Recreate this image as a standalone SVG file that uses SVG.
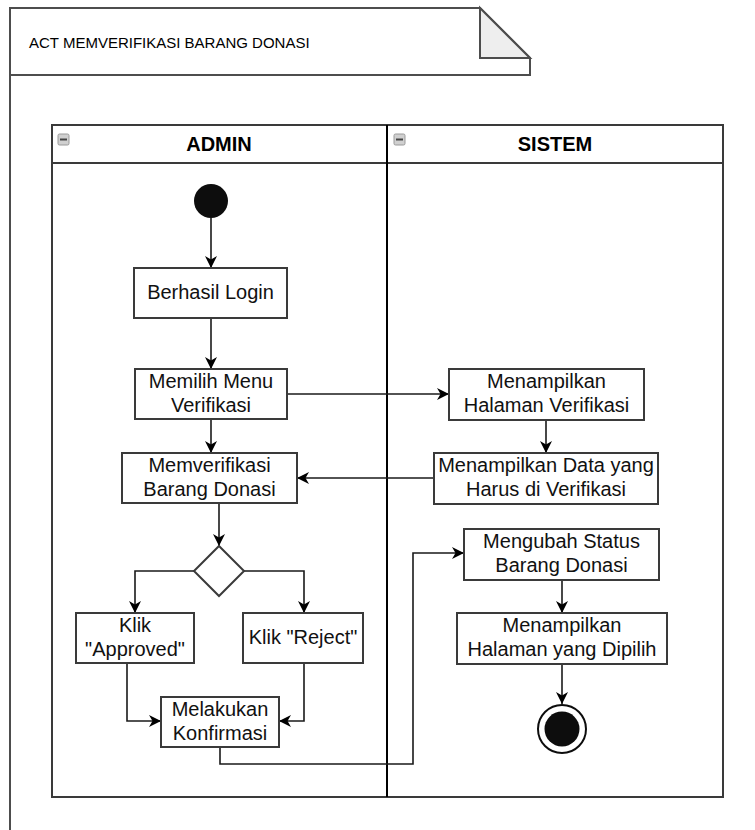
<svg xmlns="http://www.w3.org/2000/svg" width="755" height="830" viewBox="0 0 755 830">
  <style>
    .frame { fill: none; stroke: #4d4d4d; stroke-width: 2; }
    .lane { fill: none; stroke: #3a3a3a; stroke-width: 2; }
    .box { fill: #ffffff; stroke: #3a3a3a; stroke-width: 2; }
    .lbl { font-family: "Liberation Sans", Arial, sans-serif; font-size: 20px; fill: #111; text-anchor: middle; }
    .head { font-family: "Liberation Sans", Arial, sans-serif; font-size: 20px; font-weight: bold; fill: #000; text-anchor: middle; }
    .title { font-family: "Liberation Sans", Arial, sans-serif; font-size: 15px; fill: #000; }
    .edge { fill: none; stroke: #1a1a1a; stroke-width: 1.6; marker-end: url(#arrow); }
    .icon { fill: #d0d0d0; stroke: #9a9a9a; stroke-width: 1; }
  </style>
  <defs>
    <marker id="arrow" markerUnits="userSpaceOnUse" markerWidth="12" markerHeight="12" refX="12" refY="6" orient="auto">
      <path d="M0,0 L12,6 L0,12 L3.5,6 Z" fill="#000"/>
    </marker>
  </defs>

  <rect width="755" height="830" fill="#ffffff"/>

  <!-- activity frame with folded title tab -->
  <g id="frame">
    <path class="frame" d="M10,8 H480 L530,58 V75 H10 Z"/>
    <path d="M480,8 V58 H530 Z" fill="#eeeeee" stroke="#4d4d4d" stroke-width="2" stroke-linejoin="miter"/>
    <line class="frame" x1="10" y1="75" x2="10" y2="830"/>
    <text class="title" x="29" y="48">ACT MEMVERIFIKASI BARANG DONASI</text>
  </g>

  <!-- swimlanes -->
  <g id="lanes">
    <rect class="lane" x="52" y="125" width="671" height="672"/>
    <line class="lane" x1="52" y1="163" x2="723" y2="163"/>
    <line x1="387" y1="125" x2="387" y2="797" stroke="#000" stroke-width="2"/>
    <g id="lane-admin">
      <rect class="icon" x="58" y="134" width="11" height="11" rx="1.5"/>
      <line x1="60" y1="139.5" x2="67" y2="139.5" stroke="#444" stroke-width="2"/>
      <text class="head" x="219" y="151">ADMIN</text>
    </g>
    <g id="lane-sistem">
      <rect class="icon" x="394" y="134" width="11" height="11" rx="1.5"/>
      <line x1="396" y1="139.5" x2="403" y2="139.5" stroke="#444" stroke-width="2"/>
      <text class="head" x="555" y="151">SISTEM</text>
    </g>
  </g>

  <!-- connectors -->
  <g id="connectors">
    <path class="edge" d="M211,218 V268"/>
    <path class="edge" d="M211,318 V369"/>
    <path class="edge" d="M287,394 H449"/>
    <path class="edge" d="M211,419 V453"/>
    <path class="edge" d="M546,420 V453"/>
    <path class="edge" d="M434,478 H297"/>
    <path class="edge" d="M219,503 V546"/>
    <path class="edge" d="M194,571 H135 V613"/>
    <path class="edge" d="M244,571 H304 V613"/>
    <path class="edge" d="M127,663 V721 H161"/>
    <path class="edge" d="M304,663 V721 H279"/>
    <path class="edge" d="M220,747 V764 H413 V553 H464"/>
    <path class="edge" d="M562,580 V613"/>
    <path class="edge" d="M562,664 V704"/>
  </g>

  <!-- nodes -->
  <g id="start">
    <circle cx="211" cy="201" r="17" fill="#0d0d0d"/>
  </g>

  <g id="berhasil-login">
    <rect class="box" x="134" y="268" width="153" height="50"/>
    <text class="lbl" x="210.5" y="299">Berhasil Login</text>
  </g>

  <g id="memilih-menu">
    <rect class="box" x="135" y="369" width="152" height="50"/>
    <text class="lbl" x="211" y="388">Memilih Menu</text>
    <text class="lbl" x="211" y="412">Verifikasi</text>
  </g>

  <g id="memverifikasi">
    <rect class="box" x="122" y="453" width="175" height="50"/>
    <text class="lbl" x="209.5" y="472">Memverifikasi</text>
    <text class="lbl" x="209.5" y="496">Barang Donasi</text>
  </g>

  <g id="decision">
    <path d="M219,546 L244,571 L219,596 L194,571 Z" fill="#fff" stroke="#3a3a3a" stroke-width="2"/>
  </g>

  <g id="klik-approved">
    <rect class="box" x="76" y="613" width="118" height="50"/>
    <text class="lbl" x="135" y="632">Klik</text>
    <text class="lbl" x="135" y="656">"Approved"</text>
  </g>

  <g id="klik-reject">
    <rect class="box" x="243" y="613" width="120" height="50"/>
    <text class="lbl" x="303" y="644">Klik "Reject"</text>
  </g>

  <g id="konfirmasi">
    <rect class="box" x="161" y="697" width="118" height="50"/>
    <text class="lbl" x="220" y="716">Melakukan</text>
    <text class="lbl" x="220" y="740">Konfirmasi</text>
  </g>

  <g id="halaman-verifikasi">
    <rect class="box" x="449" y="369" width="195" height="51"/>
    <text class="lbl" x="546.5" y="388">Menampilkan</text>
    <text class="lbl" x="546.5" y="412">Halaman Verifikasi</text>
  </g>

  <g id="data-verifikasi">
    <rect class="box" x="434" y="453" width="224" height="51"/>
    <text class="lbl" x="546" y="472">Menampilkan Data yang</text>
    <text class="lbl" x="546" y="496">Harus di Verifikasi</text>
  </g>

  <g id="ubah-status">
    <rect class="box" x="464" y="529" width="195" height="51"/>
    <text class="lbl" x="561.5" y="548">Mengubah Status</text>
    <text class="lbl" x="561.5" y="572">Barang Donasi</text>
  </g>

  <g id="halaman-dipilih">
    <rect class="box" x="457" y="613" width="210" height="51"/>
    <text class="lbl" x="562" y="632">Menampilkan</text>
    <text class="lbl" x="562" y="656">Halaman yang Dipilih</text>
  </g>

  <g id="end">
    <circle cx="562" cy="729" r="24" fill="#fff" stroke="#0d0d0d" stroke-width="2"/>
    <circle cx="562" cy="729" r="17.5" fill="#0d0d0d"/>
  </g>
</svg>
